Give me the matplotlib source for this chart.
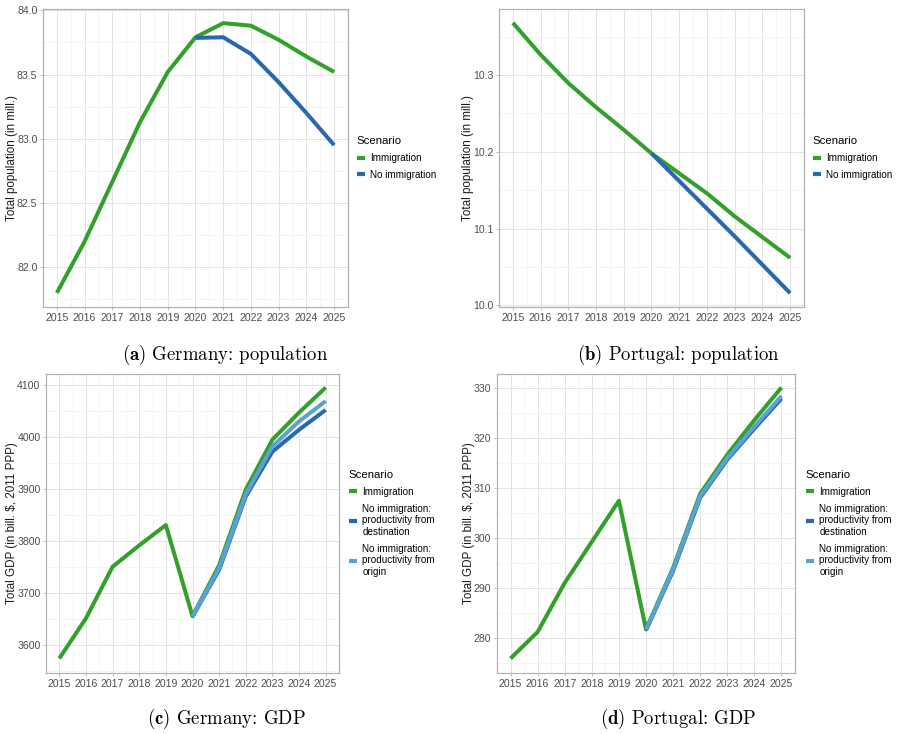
import matplotlib
matplotlib.use('Agg')
from matplotlib import pyplot as plt
from matplotlib.ticker import MultipleLocator, FormatStrFormatter
from matplotlib.transforms import blended_transform_factory

plt.rcParams['font.family'] = ['Liberation Sans', 'DejaVu Sans']
plt.rcParams['mathtext.fontset'] = 'cm'

# data
years = list(range(2015, 2026))
years_cf = list(range(2020, 2026))

de_pop_imm = [81.80, 82.20, 82.665, 83.13, 83.52, 83.79, 83.90, 83.88, 83.77, 83.64, 83.52]
de_pop_noimm = [83.785, 83.79, 83.66, 83.44, 83.20, 82.95]

pt_pop_imm = [10.368, 10.3265, 10.2896, 10.258, 10.2287, 10.198, 10.172, 10.146, 10.116, 10.089, 10.062]
pt_pop_noimm = [10.198, 10.162, 10.126, 10.090, 10.053, 10.016]

de_gdp_imm = [3575, 3652, 3751, 3792, 3831, 3656, 3754, 3899, 3995, 4047, 4095]
de_gdp_dest = [3655, 3745, 3886, 3972, 4014, 4052]
de_gdp_orig = [3655, 3748, 3890, 3982, 4030, 4069]

pt_gdp_imm = [275.9, 281.2, 291.0, 299.2, 307.4, 281.7, 294.0, 308.8, 316.6, 323.5, 330.0]
pt_gdp_dest = [281.5, 293.4, 308.0, 315.6, 321.8, 327.8]
pt_gdp_orig = [281.6, 293.7, 308.3, 315.9, 322.2, 328.3]

green = '#33a02c'
dblue = '#2a68ae'
lblue = '#5aa1d4'

W, H = 898, 734
fig = plt.figure(figsize=(W / 100, H / 100), dpi=100)


def px_axes(x0, y0, x1, y1):
    return fig.add_axes([x0 / W, 1 - y1 / H, (x1 - x0) / W, (y1 - y0) / H])


def style(ax, ylabel, ymaj, fmt):
    ax.set_facecolor('white')
    for s in ax.spines.values():
        s.set_color('#b3b3b3')
        s.set_linewidth(0.9)
    ax.xaxis.set_major_locator(MultipleLocator(1))
    ax.xaxis.set_minor_locator(MultipleLocator(0.5))
    ax.yaxis.set_major_locator(MultipleLocator(ymaj))
    ax.yaxis.set_minor_locator(MultipleLocator(ymaj / 2))
    ax.yaxis.set_major_formatter(FormatStrFormatter(fmt))
    ax.grid(which='major', color='#e3e3e3', linewidth=0.7)
    ax.grid(which='minor', color='#f0f0f0', linewidth=0.5)
    ax.set_axisbelow(True)
    ax.tick_params(which='major', length=2.5, width=0.6, color='#b3b3b3',
                   labelsize=7.6, labelcolor='#4d4d4d', pad=1.5)
    ax.tick_params(which='minor', length=0)
    ax.set_xlim(2014.5, 2025.5)
    ax.set_ylabel(ylabel, fontsize=8.4, color='#1a1a1a', labelpad=-0.5)


def legend(ax, x):
    tr = blended_transform_factory(fig.transFigure, ax.transAxes)
    lg = ax.legend(loc='center left', bbox_to_anchor=(x / W, 0.5),
                   bbox_transform=tr, frameon=False,
                   title='Scenario', fontsize=7.1, title_fontsize=8.2,
                   handlelength=0.85, handletextpad=0.5, borderpad=0,
                   labelspacing=0.7, alignment='left')
    for l in lg.get_lines():
        l.set_linewidth(3.0)


lw = 2.9

# (a) Germany population
ax = px_axes(43, 9, 348, 307)
ax.plot(years, de_pop_imm, color=green, lw=lw, label='Immigration', solid_capstyle='butt')
ax.plot(years_cf, de_pop_noimm, color=dblue, lw=lw, label='No immigration', solid_capstyle='butt')
style(ax, 'Total population (in mill.)', 0.5, '%.1f')
ax.set_ylim(81.69, 84.01)
legend(ax, 352)

# (b) Portugal population
ax = px_axes(499, 9, 804, 307)
ax.plot(years, pt_pop_imm, color=green, lw=lw, label='Immigration', solid_capstyle='butt')
ax.plot(years_cf, pt_pop_noimm, color=dblue, lw=lw, label='No immigration', solid_capstyle='butt')
style(ax, 'Total population (in mill.)', 0.1, '%.1f')
ax.set_ylim(9.998, 10.386)
legend(ax, 808)

gdp_labels = ['Immigration',
              'No immigration:\nproductivity from\ndestination',
              'No immigration:\nproductivity from\norigin']

# (c) Germany GDP
ax = px_axes(46, 374, 339, 673)
ax.plot(years, de_gdp_imm, color=green, lw=lw, label=gdp_labels[0], solid_capstyle='butt')
ax.plot(years_cf, de_gdp_dest, color=dblue, lw=lw, label=gdp_labels[1], solid_capstyle='butt')
ax.plot(years_cf, de_gdp_orig, color=lblue, lw=lw, label=gdp_labels[2], solid_capstyle='butt')
style(ax, 'Total GDP (in bill. $, 2011 PPP)', 100, '%d')
ax.set_ylim(3547, 4121)
legend(ax, 344)

# (d) Portugal GDP
ax = px_axes(497, 374, 795, 673)
ax.plot(years, pt_gdp_imm, color=green, lw=lw, label=gdp_labels[0], solid_capstyle='butt')
ax.plot(years_cf, pt_gdp_dest, color=dblue, lw=lw, label=gdp_labels[1], solid_capstyle='butt')
ax.plot(years_cf, pt_gdp_orig, color=lblue, lw=lw, label=gdp_labels[2], solid_capstyle='butt')
style(ax, 'Total GDP (in bill. $, 2011 PPP)', 10, '%d')
ax.set_ylim(273.0, 332.7)
legend(ax, 801)

captions = [(225, 355, 'a', 'Germany: population'),
            (678, 355, 'b', 'Portugal: population'),
            (226, 719, 'c', 'Germany: GDP'),
            (678, 719, 'd', 'Portugal: GDP')]
for cx, cy, letter, txt in captions:
    fig.text(cx / W, 1 - cy / H, r'$\mathbf{(%s)}$ %s' % (letter, txt),
             ha='center', va='center', fontsize=13.5, family='cmr10')

fig.savefig('out.png', dpi=100, facecolor='white')
